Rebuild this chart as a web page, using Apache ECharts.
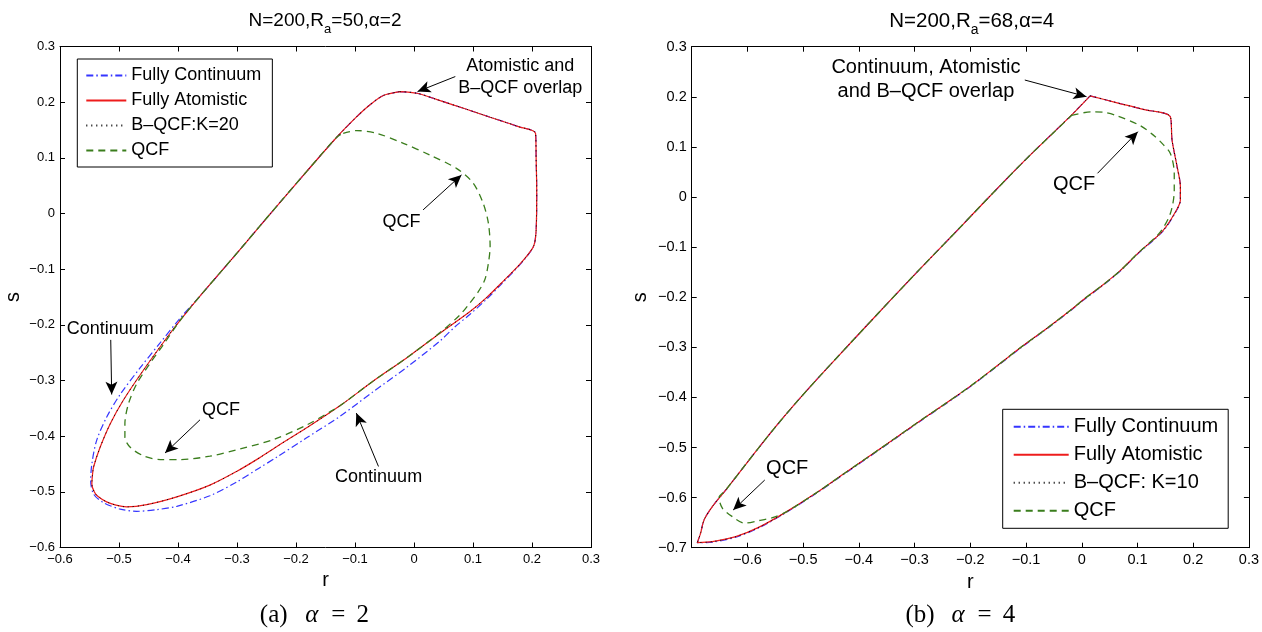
<!DOCTYPE html>
<html><head><meta charset="utf-8">
<script src="https://cdn.jsdelivr.net/npm/echarts@6/dist/echarts.min.js"></script>
<style>html,body{margin:0;padding:0;background:#fff}#c{width:1262px;height:632px}</style>
</head><body><div id="c"></div>
<script>
// ---------- panel (a): N=200, Ra=50, alpha=2 ----------
const legendA = ['Fully Continuum', 'Fully Atomistic', 'B–QCF:K=20', 'QCF'];
const atomA = [[-0.024,0.219],[0.005,0.216],[0.038,0.205],[0.084,0.189],[0.129,0.173],[0.177,0.156],[0.206,0.144],[0.207,0.100],[0.208,0.040],[0.207,-0.030],[0.203,-0.058],[0.190,-0.078],[0.176,-0.095],[0.149,-0.124],[0.122,-0.152],[0.095,-0.176],[0.044,-0.215],[-0.012,-0.259],[-0.069,-0.301],[-0.125,-0.345],[-0.182,-0.385],[-0.233,-0.419],[-0.262,-0.439],[-0.300,-0.463],[-0.346,-0.488],[-0.402,-0.509],[-0.453,-0.523],[-0.487,-0.527],[-0.505,-0.524],[-0.521,-0.518],[-0.536,-0.508],[-0.542,-0.500],[-0.546,-0.486],[-0.545,-0.470],[-0.543,-0.455],[-0.532,-0.420],[-0.515,-0.378],[-0.493,-0.336],[-0.459,-0.282],[-0.414,-0.216],[-0.395,-0.190],[-0.360,-0.145],[-0.300,-0.071],[-0.244,-0.001],[-0.188,0.068],[-0.131,0.137],[-0.097,0.174],[-0.075,0.195],[-0.052,0.212],[-0.024,0.219]];
const contA = [[-0.024,0.219],[0.005,0.216],[0.038,0.205],[0.084,0.189],[0.129,0.173],[0.177,0.156],[0.206,0.144],[0.207,0.100],[0.208,0.040],[0.207,-0.030],[0.203,-0.058],[0.190,-0.079],[0.176,-0.096],[0.149,-0.126],[0.122,-0.155],[0.095,-0.181],[0.070,-0.203],[0.044,-0.229],[-0.012,-0.276],[-0.069,-0.320],[-0.125,-0.364],[-0.182,-0.403],[-0.233,-0.438],[-0.262,-0.457],[-0.300,-0.482],[-0.346,-0.507],[-0.402,-0.526],[-0.436,-0.532],[-0.470,-0.535],[-0.498,-0.531],[-0.527,-0.519],[-0.543,-0.504],[-0.548,-0.480],[-0.546,-0.450],[-0.538,-0.408],[-0.521,-0.366],[-0.498,-0.325],[-0.464,-0.277],[-0.430,-0.232],[-0.398,-0.190],[-0.360,-0.145],[-0.300,-0.071],[-0.244,-0.001],[-0.188,0.068],[-0.131,0.137],[-0.097,0.174],[-0.075,0.195],[-0.052,0.212],[-0.024,0.219]];
const bqcfA = [[-0.024,0.219],[0.005,0.216],[0.038,0.205],[0.084,0.189],[0.129,0.173],[0.177,0.156],[0.206,0.144],[0.207,0.100],[0.208,0.040],[0.207,-0.030],[0.203,-0.058],[0.190,-0.078],[0.176,-0.095],[0.149,-0.124],[0.122,-0.152],[0.095,-0.176],[0.044,-0.215],[-0.012,-0.259],[-0.069,-0.301],[-0.125,-0.345],[-0.182,-0.385],[-0.233,-0.419],[-0.262,-0.439],[-0.300,-0.463],[-0.346,-0.488],[-0.402,-0.509],[-0.453,-0.523],[-0.487,-0.527],[-0.505,-0.524],[-0.521,-0.518],[-0.536,-0.508],[-0.542,-0.500],[-0.546,-0.486],[-0.545,-0.470],[-0.543,-0.455],[-0.532,-0.420],[-0.515,-0.378],[-0.493,-0.336],[-0.459,-0.282],[-0.414,-0.216],[-0.395,-0.190],[-0.360,-0.145],[-0.300,-0.071],[-0.244,-0.001],[-0.188,0.068],[-0.131,0.137],[-0.097,0.174],[-0.075,0.195],[-0.052,0.212],[-0.024,0.219]];
const qcfA = [[-0.120,0.144],[-0.097,0.149],[-0.063,0.144],[-0.018,0.126],[0.027,0.105],[0.072,0.081],[0.100,0.055],[0.117,0.019],[0.126,-0.017],[0.129,-0.059],[0.126,-0.090],[0.120,-0.119],[0.108,-0.142],[0.093,-0.163],[0.078,-0.182],[0.044,-0.214],[-0.012,-0.259],[-0.069,-0.301],[-0.125,-0.345],[-0.142,-0.356],[-0.182,-0.380],[-0.238,-0.406],[-0.295,-0.423],[-0.346,-0.436],[-0.397,-0.442],[-0.430,-0.442],[-0.459,-0.435],[-0.481,-0.420],[-0.490,-0.402],[-0.490,-0.378],[-0.484,-0.342],[-0.470,-0.306],[-0.448,-0.270],[-0.425,-0.236],[-0.395,-0.190],[-0.360,-0.145],[-0.300,-0.071],[-0.244,-0.001],[-0.188,0.068],[-0.131,0.137],[-0.120,0.144]];

// ---------- panel (b): N=200, Ra=68, alpha=4 ----------
const legendB = ['Fully Continuum', 'Fully Atomistic', 'B–QCF: K=10', 'QCF'];
const atomB = [[0.015,0.202],[0.060,0.189],[0.110,0.175],[0.159,0.160],[0.162,0.114],[0.171,0.061],[0.177,0.021],[0.177,-0.006],[0.167,-0.032],[0.145,-0.068],[0.101,-0.112],[0.068,-0.148],[0.035,-0.178],[0.005,-0.203],[-0.018,-0.224],[-0.060,-0.260],[-0.108,-0.299],[-0.152,-0.337],[-0.198,-0.376],[-0.243,-0.411],[-0.288,-0.445],[-0.360,-0.501],[-0.429,-0.554],[-0.477,-0.591],[-0.531,-0.629],[-0.579,-0.659],[-0.621,-0.678],[-0.663,-0.688],[-0.690,-0.690],[-0.684,-0.671],[-0.678,-0.645],[-0.663,-0.618],[-0.639,-0.585],[-0.597,-0.525],[-0.549,-0.458],[-0.510,-0.407],[-0.468,-0.355],[-0.408,-0.283],[-0.345,-0.208],[-0.288,-0.141],[-0.216,-0.058],[-0.174,-0.009],[-0.120,0.053],[-0.084,0.093],[-0.018,0.164],[0.015,0.202]];
const contB = [[0.015,0.202],[0.060,0.189],[0.110,0.175],[0.159,0.160],[0.162,0.114],[0.171,0.061],[0.177,0.021],[0.177,-0.006],[0.167,-0.033],[0.145,-0.069],[0.101,-0.113],[0.068,-0.149],[0.035,-0.179],[0.005,-0.204],[-0.018,-0.225],[-0.060,-0.261],[-0.108,-0.300],[-0.152,-0.338],[-0.198,-0.377],[-0.243,-0.412],[-0.288,-0.446],[-0.360,-0.502],[-0.429,-0.555],[-0.477,-0.592],[-0.531,-0.630],[-0.579,-0.660],[-0.621,-0.679],[-0.663,-0.689],[-0.690,-0.690],[-0.684,-0.671],[-0.678,-0.645],[-0.663,-0.618],[-0.639,-0.585],[-0.597,-0.525],[-0.549,-0.458],[-0.510,-0.407],[-0.468,-0.355],[-0.408,-0.283],[-0.345,-0.208],[-0.288,-0.141],[-0.216,-0.058],[-0.174,-0.009],[-0.120,0.053],[-0.084,0.093],[-0.018,0.164],[0.015,0.202]];
const bqcfB = [[0.015,0.202],[0.060,0.189],[0.110,0.175],[0.159,0.160],[0.162,0.114],[0.171,0.061],[0.177,0.021],[0.177,-0.006],[0.167,-0.032],[0.145,-0.068],[0.101,-0.112],[0.068,-0.148],[0.035,-0.178],[0.005,-0.203],[-0.018,-0.224],[-0.060,-0.260],[-0.108,-0.299],[-0.152,-0.337],[-0.198,-0.376],[-0.243,-0.411],[-0.288,-0.445],[-0.360,-0.501],[-0.429,-0.554],[-0.477,-0.591],[-0.531,-0.629],[-0.579,-0.659],[-0.621,-0.678],[-0.663,-0.688],[-0.690,-0.690],[-0.684,-0.671],[-0.678,-0.645],[-0.663,-0.618],[-0.639,-0.585],[-0.597,-0.525],[-0.549,-0.458],[-0.510,-0.407],[-0.468,-0.355],[-0.408,-0.283],[-0.345,-0.208],[-0.288,-0.141],[-0.216,-0.058],[-0.174,-0.009],[-0.120,0.053],[-0.084,0.093],[-0.018,0.164],[0.015,0.202]];
const qcfB = [[-0.018,0.163],[0.017,0.170],[0.040,0.169],[0.061,0.163],[0.104,0.143],[0.128,0.124],[0.145,0.106],[0.159,0.087],[0.166,0.047],[0.166,0.014],[0.159,-0.033],[0.140,-0.071],[0.101,-0.112],[0.068,-0.148],[0.035,-0.178],[0.005,-0.203],[-0.018,-0.224],[-0.060,-0.260],[-0.108,-0.299],[-0.152,-0.337],[-0.198,-0.376],[-0.243,-0.411],[-0.288,-0.445],[-0.360,-0.501],[-0.429,-0.554],[-0.477,-0.591],[-0.531,-0.629],[-0.555,-0.640],[-0.580,-0.646],[-0.605,-0.651],[-0.627,-0.638],[-0.645,-0.621],[-0.651,-0.600],[-0.639,-0.585],[-0.597,-0.525],[-0.549,-0.458],[-0.510,-0.407],[-0.468,-0.355],[-0.408,-0.283],[-0.345,-0.208],[-0.288,-0.141],[-0.216,-0.058],[-0.174,-0.009],[-0.120,0.053],[-0.084,0.093],[-0.018,0.163]];

// axis ranges
const xRangeA = [-0.6, 0.3], yRangeA = [-0.6, 0.3];
const xRangeB = [-0.7, 0.3], yRangeB = [-0.7, 0.3];
const tickStep = 0.1;

const FONT = '"Liberation Sans", Arial, Helvetica, sans-serif';
const SERIF = '"Liberation Serif", "DejaVu Serif", serif';
function fmt(v) {
  const t = Math.round(v * 10) / 10;
  if (t === 0) return '0';
  return (t < 0 ? '\u2212' : '') + Math.abs(t).toString();
}
function mkAxis(gi, range, pos, fs, showLabels, name, nameGap, hideMin) {
  return {
    type: 'value', gridIndex: gi, position: pos, min: range[0], max: range[1], interval: tickStep,
    axisLine: {show: true, onZero: false, lineStyle: {color: '#000', width: 1}},
    axisTick: {show: true, inside: true, length: 5, lineStyle: {color: '#000', width: 1}},
    splitLine: {show: false},
    axisLabel: {show: showLabels, color: '#000', fontSize: fs, fontFamily: FONT, margin: 5,
      formatter: fmt, showMinLabel: !hideMin, showMaxLabel: true},
    name: showLabels ? name : '', nameLocation: 'middle', nameGap: nameGap,
    nameTextStyle: {fontSize: 20, color: '#000', fontFamily: FONT}
  };
}
const ST = {
  cont: {color: '#3535ff', width: 1.2, type: [7, 3, 1.5, 3]},
  atom: {color: '#ee1c1c', width: 1.2, type: 'solid'},
  bqcf: {color: '#000000', width: 1, type: [1, 4]},
  qcf:  {color: '#3a7d1c', width: 1.3, type: [7, 5]}
};
function ln(name, data, gi, st) {
  return {type: 'line', name: name, data: data, xAxisIndex: gi * 2, yAxisIndex: gi * 2,
    symbol: 'none', showSymbol: false, smooth: 0.3, silent: true, animation: false,
    color: st.color, lineStyle: st, itemStyle: {color: st.color}};
}
function ann(gi, fs, labels, arrows) {
  return {type: 'line', name: '_ann' + gi, data: [], xAxisIndex: gi * 2, yAxisIndex: gi * 2,
    silent: true, animation: false, color: '#000',
    markLine: {silent: true, animation: false, symbol: ['none', 'arrow'], symbolSize: [9, 13],
      label: {show: false}, lineStyle: {color: '#000', width: 1, type: 'solid'},
      itemStyle: {color: '#000'},
      emphasis: {disabled: true},
      data: arrows.map(a => [{coord: a[0]}, {coord: a[1]}])},
    markPoint: {silent: true, animation: false, symbol: 'circle', symbolSize: 1,
      itemStyle: {color: 'rgba(0,0,0,0)'},
      label: {show: true, position: 'inside', formatter: '{b}', color: '#000', fontSize: fs,
        fontFamily: FONT, lineHeight: fs + 4, align: 'center'},
      data: labels.map(l => ({name: l[0], coord: l[1]}))}
  };
}
function caption(x, letter, val) {
  const base = {fontSize: 25, fontFamily: SERIF, fill: '#000', align: 'center'};
  return {type: 'text', x: x, y: 615, style: {
    text: '{p|(' + letter + ')}{g| }{i|α}{g2| }{e|=}{g2| }{n|' + val + '}',
    rich: {p: Object.assign({}, base, {width: 35}), g: {width: 12, fontSize: 25},
           i: Object.assign({}, base, {fontStyle: 'italic', width: 17}), g2: {width: 8, fontSize: 25},
           e: Object.assign({}, base, {width: 20}), n: Object.assign({}, base, {width: 13})},
    align: 'center', verticalAlign: 'middle'}};
}

const option = {
  animation: false,
  backgroundColor: '#fff',
  grid: [
    {left: 60, top: 46.5, width: 531, height: 501, containLabel: false},
    {left: 691.7, top: 46.7, width: 558.7, height: 501, containLabel: false}
  ],
  xAxis: [
    mkAxis(0, xRangeA, 'bottom', 13, true, 'r', 22, false),
    mkAxis(0, xRangeA, 'top', 13, false, '', 0, false),
    mkAxis(1, xRangeB, 'bottom', 14.5, true, 'r', 22, true),
    mkAxis(1, xRangeB, 'top', 14.5, false, '', 0, true)
  ],
  yAxis: [
    mkAxis(0, yRangeA, 'left', 13, true, 's', 37, false),
    mkAxis(0, yRangeA, 'right', 13, false, '', 0, false),
    mkAxis(1, yRangeB, 'left', 14.5, true, 's', 41, false),
    mkAxis(1, yRangeB, 'right', 14.5, false, '', 0, false)
  ],
  legend: [
    {orient: 'vertical', left: 77.3, top: 59, data: legendA, itemWidth: 40, itemHeight: 18, itemGap: 7,
      padding: [7.5, 11, 7.5, 8], borderColor: '#000', borderWidth: 1, backgroundColor: '#fff',
      itemStyle: {opacity: 0}, selectedMode: false, textStyle: {fontSize: 18, color: '#000', fontFamily: FONT}},
    {orient: 'vertical', left: 1002.7, top: 409.3, data: legendB, itemWidth: 55, itemHeight: 20, itemGap: 8,
      padding: [7.5, 10, 7.5, 10], borderColor: '#000', borderWidth: 1, backgroundColor: '#fff',
      itemStyle: {opacity: 0}, selectedMode: false, textStyle: {fontSize: 20, color: '#000', fontFamily: FONT}}
  ],
  series: [
    ln(legendA[0], contA, 0, ST.cont),
    ln(legendA[1], atomA, 0, ST.atom),
    ln(legendA[2], bqcfA, 0, ST.bqcf),
    ln(legendA[3], qcfA, 0, ST.qcf),
    ln(legendB[0], contB, 1, ST.cont),
    ln(legendB[1], atomB, 1, ST.atom),
    ln(legendB[2], bqcfB, 1, ST.bqcf),
    ln(legendB[3], qcfB, 1, ST.qcf),
    ann(0, 18,
      [['Atomistic and\nB–QCF overlap', [0.18, 0.245]], ['QCF', [-0.021, -0.0145]],
       ['Continuum', [-0.515, -0.207]], ['QCF', [-0.327, -0.3526]], ['Continuum', [-0.060, -0.474]]],
      [[[0.070, 0.246], [0.006, 0.219]], [[0.0154, 0.0065], [0.0805, 0.0693]],
       [[-0.514, -0.227], [-0.5124, -0.3252]], [[-0.3627, -0.3706], [-0.422, -0.4303]],
       [[-0.0602, -0.4544], [-0.0978, -0.3585]]]),
    ann(1, 20,
      [['Continuum, Atomistic\nand B–QCF overlap', [-0.2797, 0.2336]], ['QCF', [-0.0138, 0.024]],
       ['QCF', [-0.5286, -0.541]]],
      [[[-0.1022, 0.2335], [0.0085, 0.2003]], [[0.0283, 0.0473], [0.1007, 0.1304]],
       [[-0.5689, -0.5649], [-0.6256, -0.6248]]])
  ],
  graphic: [
    {type: 'text', x: 325, y: 21, style: {text: '{t|N=200,R}{s|a}{t|=50,α=2}',
      rich: {t: {fontSize: 19, lineHeight: 30, fontFamily: FONT, fill: '#000'},
             s: {fontSize: 13, lineHeight: 10, verticalAlign: 'bottom', fontFamily: FONT, fill: '#000'}},
      align: 'center', verticalAlign: 'middle'}},
    {type: 'text', x: 971.7, y: 21, style: {text: '{t|N=200,R}{s|a}{t|=68,α=4}',
      rich: {t: {fontSize: 20.5, lineHeight: 32, fontFamily: FONT, fill: '#000'},
             s: {fontSize: 14, lineHeight: 10, verticalAlign: 'bottom', fontFamily: FONT, fill: '#000'}},
      align: 'center', verticalAlign: 'middle'}},
    caption(312.7, 'a', '2'),
    caption(959, 'b', '4')
  ]
};
const chart = echarts.init(document.getElementById('c'), null, {renderer: 'canvas', width: 1262, height: 632});
chart.setOption(option);
</script></body></html>
